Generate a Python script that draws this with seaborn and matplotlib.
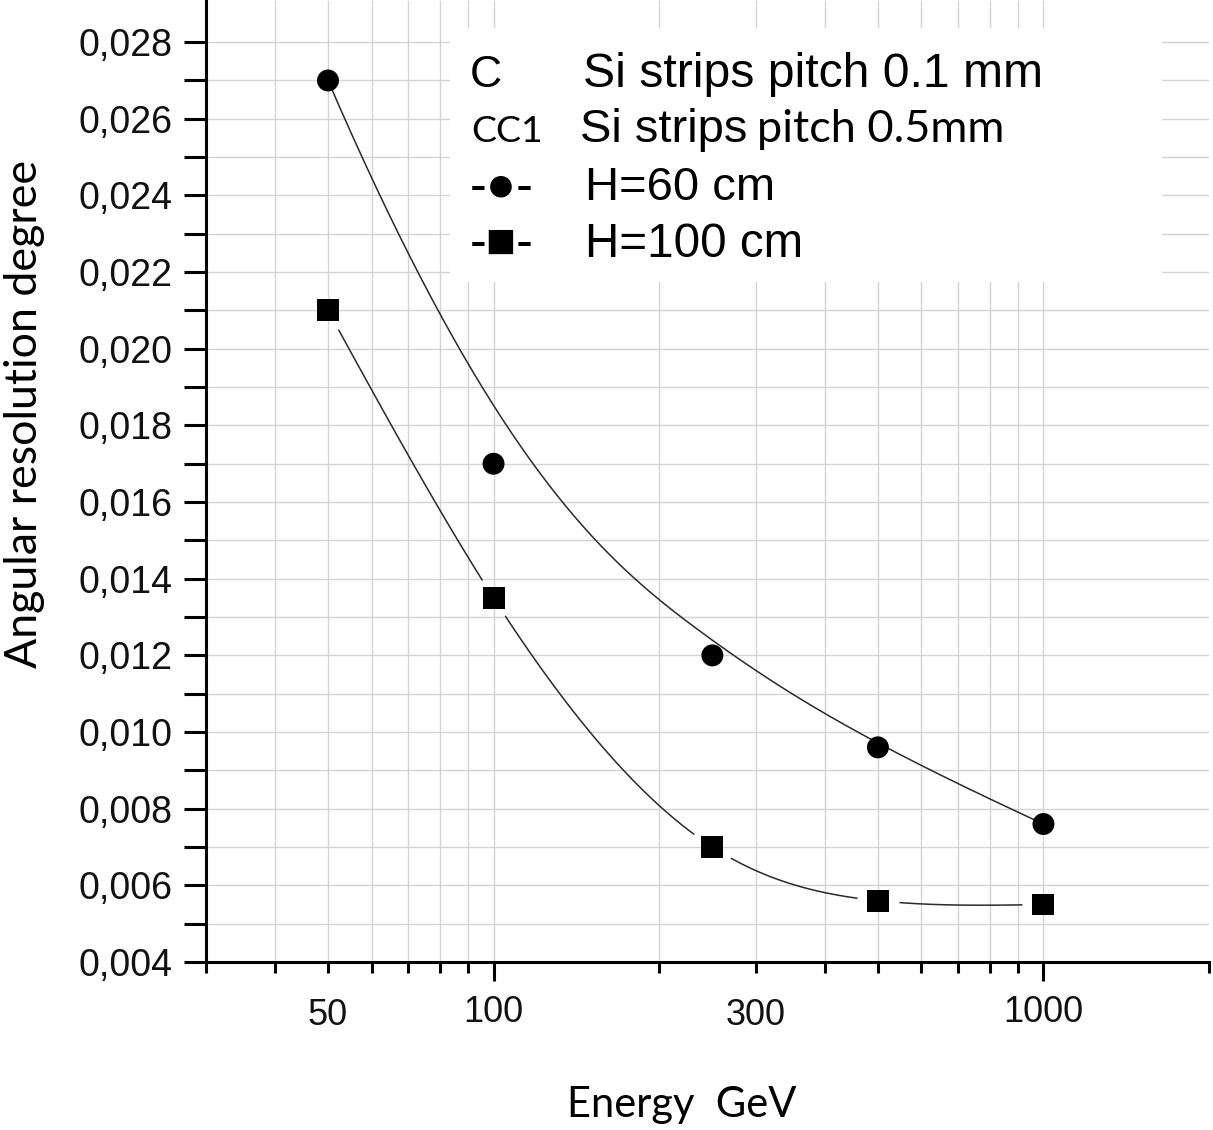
import numpy as np
import pandas as pd
import matplotlib
matplotlib.use("Agg")
import matplotlib.pyplot as plt
import seaborn as sns
from matplotlib.ticker import FixedLocator, FixedFormatter
from matplotlib.patches import Rectangle

# ---------------- data ----------------
energy_gev = [50, 100, 250, 500, 1000]
res_h60 = [0.027, 0.017, 0.012, 0.0096, 0.0076]
res_h100 = [0.021, 0.0135, 0.007, 0.0056, 0.0055]
series_names = ["H=60 cm", "H=100 cm"]

y_major = [0.004, 0.006, 0.008, 0.010, 0.012, 0.014, 0.016, 0.018,
           0.020, 0.022, 0.024, 0.026, 0.028]
y_major_labels = ["0,004", "0,006", "0,008", "0,010", "0,012", "0,014",
                  "0,016", "0,018", "0,020", "0,022", "0,024", "0,026", "0,028"]
y_minor = [0.005, 0.007, 0.009, 0.011, 0.013, 0.015, 0.017, 0.019,
           0.021, 0.023, 0.025, 0.027]
x_major = [100, 1000]
x_major_labels = ["100", "1000"]
x_minor = [30, 40, 50, 60, 70, 80, 90, 200, 300, 400, 500, 600, 700, 800, 900, 2000]
x_minor_labels = ["", "", "50", "", "", "", "", "", "300", "", "", "", "", "", "", ""]
x_grid = [40, 50, 60, 70, 80, 90, 100, 200, 300, 400, 500, 600, 700, 800, 900, 1000]

W, H = 1213, 1130
sns.set_theme(style="white")
plt.rcParams["font.family"] = ["Liberation Sans", "DejaVu Sans"]

fig = plt.figure(figsize=(W / 100, H / 100), dpi=100)
ax = fig.add_axes([206 / W, 1 - 962 / H, (1209 - 206) / W, 962 / H])
ax.set_xscale("log")
ax.set_xlim(30, 2000)
ax.set_ylim(0.004, 0.0291)
ax.set_axisbelow(True)

# ---------- markers ----------
df = pd.DataFrame({
    "energy": energy_gev * 2,
    "res": res_h60 + res_h100,
    "series": [series_names[0]] * len(energy_gev) + [series_names[1]] * len(energy_gev),
})
sns.scatterplot(data=df, x="energy", y="res", hue="series", style="series",
                markers={series_names[0]: "o", series_names[1]: "s"},
                palette={series_names[0]: "black", series_names[1]: "black"},
                s=250, linewidth=0, legend=False, ax=ax, zorder=4)

px_per_decade = ax.get_window_extent().width / np.log10(2000 / 30)
px_per_unit = ax.get_window_extent().height / (0.0291 - 0.004)


# ---------- connecting curves (Origin-style B-spline / spline) ----------
def bspline(px, py, n=400, k=3):
    m = len(px)
    inner = list(range(1, m - k))
    knots = np.array([0] * (k + 1) + inner + [m - k] * (k + 1), dtype=float)
    s = np.linspace(0, m - k, n)
    N = []
    for i in range(len(knots) - 1):
        N.append(((knots[i] <= s) & (s < knots[i + 1])).astype(float))
    last = max(i for i in range(len(knots) - 1) if knots[i] < knots[i + 1])
    N[last][-1] = 1.0
    for d in range(1, k + 1):
        newN = []
        for i in range(len(knots) - 1 - d):
            a = np.zeros_like(s)
            den1 = knots[i + d] - knots[i]
            den2 = knots[i + d + 1] - knots[i + 1]
            if den1 > 0:
                a = a + (s - knots[i]) / den1 * N[i]
            if den2 > 0:
                a = a + (knots[i + d + 1] - s) / den2 * N[i + 1]
            newN.append(a)
        N = newN
    N = np.array(N)
    return N.T @ np.asarray(px), N.T @ np.asarray(py)


def natural_spline(u, y, n=400):
    u = np.asarray(u, float)
    y = np.asarray(y, float)
    m = len(u)
    h = np.diff(u)
    A = np.zeros((m, m))
    b = np.zeros(m)
    A[0, 0] = A[-1, -1] = 1.0
    for i in range(1, m - 1):
        A[i, i - 1] = h[i - 1]
        A[i, i] = 2 * (h[i - 1] + h[i])
        A[i, i + 1] = h[i]
        b[i] = 6 * ((y[i + 1] - y[i]) / h[i] - (y[i] - y[i - 1]) / h[i - 1])
    M = np.linalg.solve(A, b)
    uu = np.linspace(u[0], u[-1], n)
    idx = np.clip(np.searchsorted(u, uu) - 1, 0, m - 2)
    hi = h[idx]
    t0 = u[idx + 1] - uu
    t1 = uu - u[idx]
    yy = (M[idx] * t0 ** 3 / (6 * hi) + M[idx + 1] * t1 ** 3 / (6 * hi)
          + (y[idx] / hi - M[idx] * hi / 6) * t0
          + (y[idx + 1] / hi - M[idx + 1] * hi / 6) * t1)
    return uu, yy


def curve_frame(xs, ys, gap_px, kind):
    if kind == "bspline":
        lu, yy = bspline(np.log10(xs), ys)
    else:
        lu, yy = natural_spline(np.log10(xs), ys)
    keep = np.ones(len(lu), dtype=bool)
    if gap_px > 0:
        for xi, yi in zip(np.log10(xs), ys):
            d = np.hypot((lu - xi) * px_per_decade, (yy - yi) * px_per_unit)
            keep &= d > gap_px
    seg = np.zeros(len(lu), dtype=int)
    cur, prev = 0, True
    for i in range(len(lu)):
        if keep[i] and not prev:
            cur += 1
        seg[i] = cur
        prev = keep[i]
    return pd.DataFrame({"energy": 10 ** lu[keep], "res": yy[keep], "seg": seg[keep]})


c60 = curve_frame(energy_gev, res_h60, 0, "bspline")
c100 = curve_frame(energy_gev, res_h100, 21, "spline")
for c in (c60, c100):
    sns.lineplot(data=c, x="energy", y="res", units="seg", estimator=None,
                 sort=False, color="#2a2a2a", linewidth=1.1, ax=ax, zorder=3)

# ---------- axes styling ----------
for side in ("top", "right"):
    ax.spines[side].set_visible(False)
for side in ("left", "bottom"):
    ax.spines[side].set_linewidth(2.2)
    ax.spines[side].set_color("black")

ax.yaxis.set_major_locator(FixedLocator(y_major))
ax.yaxis.set_major_formatter(FixedFormatter(y_major_labels))
ax.yaxis.set_minor_locator(FixedLocator(y_minor))
ax.xaxis.set_major_locator(FixedLocator(x_major))
ax.xaxis.set_major_formatter(FixedFormatter(x_major_labels))
ax.xaxis.set_minor_locator(FixedLocator(x_minor))
ax.xaxis.set_minor_formatter(FixedFormatter(x_minor_labels))

ax.tick_params(axis="y", which="both", direction="out", length=16, width=2.2,
               color="black", left=True, labelsize=27, pad=8, labelcolor="#111111")
ax.tick_params(axis="x", which="major", direction="out", length=14, width=2.2,
               color="black", bottom=True, labelsize=26, pad=10, labelcolor="#111111")
ax.tick_params(axis="x", which="minor", direction="out", length=8, width=2.2,
               color="black", bottom=True, labelsize=26, pad=18, labelcolor="#111111")

ax.grid(axis="y", which="both", color="#d4d4d4", linewidth=1.0)
ax.grid(axis="x", visible=False)
ax.vlines(x_grid, 0.004, 0.0291, colors="#d4d4d4", linewidth=1.0, zorder=0.5)
ax.set_xlabel("")
ax.set_ylabel("")

# white legend box
bx0, bx1, by0, by1 = 450, 1162, 28, 282
ax.add_patch(Rectangle(((bx0 - 206) / (1209 - 206), 1 - by1 / 962),
                       (bx1 - bx0) / (1209 - 206), (by1 - by0) / 962,
                       transform=ax.transAxes, facecolor="white", edgecolor="none", zorder=1))


def ftext(x, y, s, family, size, **kw):
    return fig.text(x / W, 1 - y / H, s, fontsize=size, family=family,
                    color="black", **kw)


fig.canvas.draw()
renderer = fig.canvas.get_renderer()


def fit(t, target, vertical=False):
    bb = t.get_window_extent(renderer)
    w = bb.height if vertical else bb.width
    t.set_fontsize(t.get_fontsize() * target / w)


calibri_like = ["Lato", "DejaVu Sans"]
arial_like = ["Liberation Sans", "DejaVu Sans"]

# axis labels
xl = ftext(682, 1117, "Energy  GeV", calibri_like, 26, ha="center", va="baseline")
fit(xl, 229)
yl = ftext(25, 414, "Angular resolution degree", calibri_like, 26, ha="center",
           va="center", rotation=90)
fit(yl, 508, vertical=True)

# legend texts
ftext(470, 87, "C", arial_like, 32, va="baseline")
t1 = ftext(583, 87, "Si strips pitch 0.1 mm", arial_like, 32, va="baseline")
fit(t1, 460)
t2a = ftext(471, 142, "CC1", calibri_like, 26, va="baseline")
fit(t2a, 72)
t2b = ftext(580, 142, "Si strips", arial_like, 32, va="baseline")
fit(t2b, 168)
t2c = ftext(757, 142, "pitch 0.5mm", calibri_like, 26, va="baseline")
fit(t2c, 248)
m1 = ftext(470, 200, "-\u25cf-", arial_like, 30, va="baseline")
fit(m1, 64)
t3 = ftext(585, 200, "H=60 cm", arial_like, 32, va="baseline")
fit(t3, 190)
m2 = ftext(470, 257, "-\u25a0-", arial_like, 30, va="baseline")
fit(m2, 64)
t4 = ftext(585, 257, "H=100 cm", arial_like, 32, va="baseline")
fit(t4, 218)

fig.savefig("out.png", dpi=100)
